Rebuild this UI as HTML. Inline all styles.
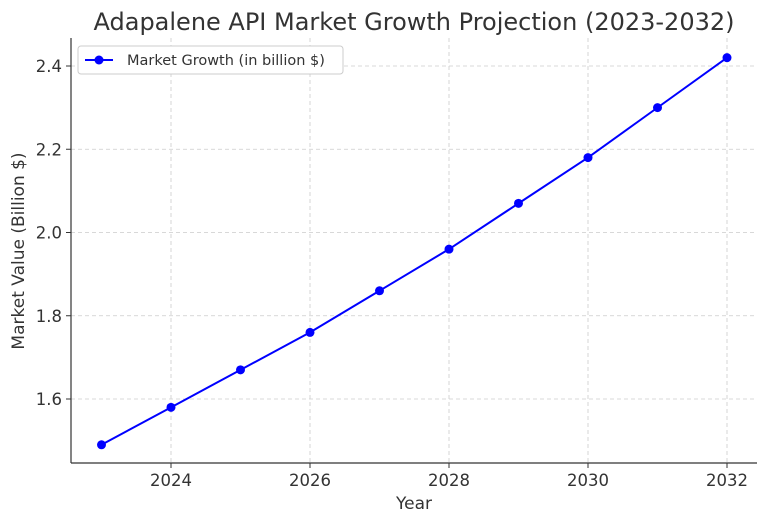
<!DOCTYPE html>
<html><head><meta charset="utf-8"><style>
body{margin:0;background:#fff;width:768px;height:524px;overflow:hidden}
text{font-family:"DejaVu Sans","Liberation Sans",sans-serif;fill:#333}
</style></head><body>
<svg id="chart" width="768" height="524" xmlns="http://www.w3.org/2000/svg">
<text x="414" y="30" font-size="24" text-anchor="middle">Adapalene API Market Growth Projection (2023-2032)</text>
<g id="grid"></g><g id="axes"></g><g id="series"></g>
<text x="414" y="509" font-size="17" text-anchor="middle">Year</text>
<text transform="translate(24,251) rotate(-90)" font-size="17" text-anchor="middle">Market Value (Billion $)</text>
<g>
<rect x="78" y="46" width="265" height="28" rx="3" fill="#fff" stroke="#ccc"/>
<line x1="85" y1="60" x2="113" y2="60" stroke="#0000ff" stroke-width="2"/>
<circle cx="99" cy="60" r="4.5" fill="#0000ff"/>
<text x="127" y="65" font-size="14.5">Market Growth (in billion $)</text>
</g>
</svg>
<script>
const years=[2023,2024,2025,2026,2027,2028,2029,2030,2031,2032];
const values=[1.49,1.58,1.67,1.76,1.86,1.96,2.07,2.18,2.30,2.42];
const xTicks=[2024,2026,2028,2030,2032];
const yTicks=[1.6,1.8,2.0,2.2,2.4];
const NS="http://www.w3.org/2000/svg";
const L=71,R=757,T=38,B=463;
const x=v=>171+(v-2024)*69.5;
const y=v=>399-(v-1.6)*416.25;
function mk(tag,attrs,parent){const e=document.createElementNS(NS,tag);for(const k in attrs)e.setAttribute(k,attrs[k]);parent.appendChild(e);return e;}
const grid=document.getElementById('grid'),axes=document.getElementById('axes'),ser=document.getElementById('series');
xTicks.forEach(t=>{
 const g=mk('line',{x1:x(t),x2:x(t),y1:T,y2:B,stroke:'#ccc','stroke-dasharray':'4,3','stroke-width':0.8},grid);
 
 
 mk('line',{x1:x(t),x2:x(t),y1:B,y2:B+5,stroke:'#333'},axes);
 const tx=mk('text',{x:x(t),y:B+23,'font-size':16.5,'text-anchor':'middle'},axes);tx.textContent=t;
 
 
});
yTicks.forEach(t=>{
 const g=mk('line',{x1:L,x2:R,y1:y(t),y2:y(t),stroke:'#ccc','stroke-dasharray':'4,3','stroke-width':0.8},grid);
 
 
 mk('line',{x1:L-5,x2:L,y1:y(t),y2:y(t),stroke:'#333'},axes);
 const tx=mk('text',{x:L-9,y:y(t)+6,'font-size':16.5,'text-anchor':'end'},axes);tx.textContent=t.toFixed(1);
 
 
});
const xa=mk('line',{x1:L,x2:R,y1:B,y2:B,stroke:'#333','stroke-width':1.2},axes);


const ya=mk('line',{x1:L,x2:L,y1:T,y2:B,stroke:'#333','stroke-width':1.2},axes);


const pl=mk('polyline',{points:years.map((yr,i)=>x(yr)+','+y(values[i])).join(' '),fill:'none',stroke:'#0000ff','stroke-width':2},ser);


years.forEach((yr,i)=>{
 const c=mk('circle',{cx:x(yr),cy:y(values[i]),r:4.5,fill:'#0000ff'},ser);
 
 
});
</script>
</body></html>
